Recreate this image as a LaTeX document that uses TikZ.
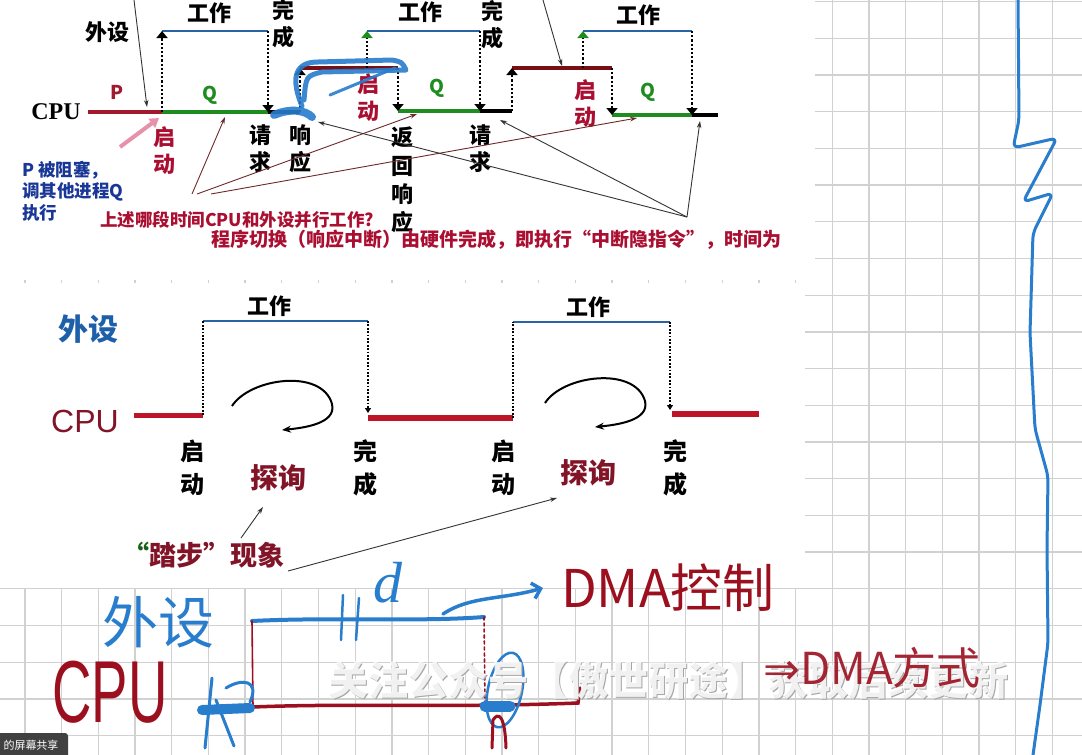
\documentclass[tikz,border=0pt]{standalone}
\usepackage{fontspec}
\setmainfont{Noto Sans CJK SC}
\newfontfamily\tms{Liberation Serif}
\newfontfamily\ars{Liberation Sans}
\newfontfamily\djv{DejaVu Sans}
\usetikzlibrary{arrows.meta}
\newcommand\fsz[1]{\fontsize{#1}{#1}\selectfont}
\newcommand\fsl[2]{\fontsize{#1}{#2}\selectfont}
\definecolor{pred}{RGB}{160,25,45}
\definecolor{maroon}{RGB}{120,15,20}
\definecolor{qgreen}{RGB}{30,140,30}
\definecolor{wblue}{RGB}{40,100,165}
\definecolor{lblue}{RGB}{25,55,150}
\definecolor{tred}{RGB}{170,15,50}
\definecolor{pink}{RGB}{232,145,170}
\definecolor{brn}{RGB}{110,40,40}
\definecolor{c2blue}{RGB}{30,95,170}
\definecolor{c2red}{RGB}{130,20,40}
\definecolor{c2line}{RGB}{190,20,40}
\definecolor{hblue}{RGB}{40,125,205}
\definecolor{hred}{RGB}{155,15,30}
\begin{document}
\begin{tikzpicture}[x=1pt, y=-1pt,
  every node/.style={inner sep=0pt},
  gridln/.style={draw=black!18, line width=1.3pt},
  lbl/.style={font=\bfseries\fsz{22}},
  vlab/.style={font=\bfseries\fsl{22}{27}, align=center},
  ql/.style={font=\bfseries\fsz{19}, text=qgreen},
  sigp/.style={draw=pred, line width=4pt},
  sigq/.style={draw=qgreen, line width=4pt},
  sigk/.style={draw=black, line width=4pt},
  sigr/.style={draw=maroon, line width=4pt},
  sigw/.style={draw=wblue, line width=2.6pt},
  dotarr/.style={line width=2.4pt, dash pattern=on 2.2pt off 2pt, -{Triangle[length=7pt,width=11pt]}},
  gdotarr/.style={line width=2.4pt, dash pattern=on 2.2pt off 2pt, -{Triangle[length=7pt,width=11pt,color=qgreen]}},
  ptr/.style={draw=brn, line width=0.9pt, -{Stealth[length=7pt,width=4.5pt]}},
  ptrk/.style={draw=black!80, line width=0.9pt, -{Stealth[length=7pt,width=4.5pt]}},
  scrib/.style={draw=hblue, line width=5pt, line cap=round, line join=round, opacity=0.9},
  sig2r/.style={draw=c2line, line width=6pt},
  sig2w/.style={draw=wblue, line width=2.5pt},
  dot2/.style={line width=2pt, dash pattern=on 1.8pt off 1.6pt},
  dot2arr/.style={dot2, -{Triangle[length=5pt,width=6pt]}},
  vlab2/.style={font=\bfseries\fsl{24}{33}, align=center},
  loop/.style={line width=2pt, -{Stealth[length=9pt,width=7pt]}},
  hb/.style={draw=hblue, line width=4pt, line cap=round, line join=round},
  hr/.style={draw=hred, line width=3pt, line cap=round}]
\useasboundingbox (0,0) rectangle (1082,755);
% squared paper and the two slides
\fill[white] (0,0) rectangle (1082,755);
\foreach \i in {0,...,28} \draw[gridln] ({24.9+36.7*\i},0) -- ++(0,755);
\foreach \j in {0,...,20} \draw[gridln] (0,{1.6+36.7*\j}) -- ++(1082,0);
\fill[white] (0,0) rectangle (815,280);
\fill[white] (0,283) rectangle (805,588);

% ---- slide 1: interrupt timing
\coordinate (a0) at (88,112);  \coordinate (a1) at (162,112);
\coordinate (a2) at (268,112); \coordinate (a3) at (300,112);
\coordinate (a4) at (300,68);  \coordinate (a5) at (398,68);
\coordinate (a6) at (398,111); \coordinate (a7) at (480,111);
\coordinate (a8) at (512,111); \coordinate (a9) at (512,68);
\coordinate (a10) at (612,68); \coordinate (a11) at (612,115);
\coordinate (a12) at (692,115); \coordinate (a13) at (718,115);
\coordinate (b1) at (162,31); \coordinate (b2) at (268,31);
\coordinate (b3) at (367,31); \coordinate (b4) at (480,31);
\coordinate (b5) at (583,31); \coordinate (b6) at (692,31);
\coordinate (g1) at (367,68); \coordinate (g2) at (583,68);
\draw[sigp] (a0) -- (a1);
\draw[sigq] (a1) -- (a2);
\draw[sigk] (a2) -- (a3);
\draw[sigr] (a4) -- (a5);
\draw[sigq] (a6) -- (a7);
\draw[sigk] (a7) -- (a8);
\draw[sigr] (a9) -- (a10);
\draw[sigq] (a11) -- (a12);
\draw[sigk] (a12) -- (a13);
\draw[sigw] (b1) -- (b2); \draw[sigw] (b3) -- (b4); \draw[sigw] (b5) -- (b6);
\draw[dotarr] (a1) -- (b1); \draw[dotarr] (b2) -- (a2);
\draw[dotarr] (a3) -- (a4); \draw[gdotarr] (g1) -- (b3);
\draw[dotarr] (a5) -- (a6); \draw[dotarr] (b4) -- (a7);
\draw[dotarr] (a8) -- (a9); \draw[gdotarr] (g2) -- (b5);
\draw[dotarr] (a10) -- (a11); \draw[dotarr] (b6) -- (a12);

\node[lbl] (dev1) at (107,32) {外设};
\node[font=\tms\bfseries\fsz{24}] (cpu1) at (56,112) {CPU};
\node[font=\bfseries\fsz{19}, text=pred] (p) at (117,92) {P};
\node[ql] (q1) at (210,95) {Q};
\node[ql] (q2) at (437,88) {Q};
\node[ql] (q3) at (648,92) {Q};
\node[lbl] (work1) at (209,13) {工作};
\node[lbl] (work2) at (420,12) {工作};
\node[lbl] (work3) at (638,15) {工作};
\node[vlab] (done1) at (283,24) {完\\成};
\node[vlab] (done2) at (492,25) {完\\成};
\node[vlab, text=tred] (go1) at (164,151) {启\\动};
\node[vlab, text=tred] (go2) at (368,98) {启\\动};
\node[vlab, text=tred] (go3) at (585,104) {启\\动};
\node[vlab] (req1) at (260,149) {请\\求};
\node[vlab] (ack1) at (300,149) {响\\应};
\node[vlab] (req2) at (480,149) {请\\求};
\node[font=\bfseries\fsl{22}{28.3}, align=center] (ret) at (402,180) {返\\回\\响\\应};
\node[font=\bfseries\fsl{17.5}{21.5}, align=left, anchor=west, text=lblue] (blk) at (22,191) {P 被阻塞，\\调其他进程Q\\执行};
\node[font=\bfseries\fsz{17.5}, anchor=west, text=tred] (ask) at (100,220) {上述哪段时间CPU和外设并行工作?};
\node[font=\bfseries\fsz{19}, anchor=west, text=tred] (note) at (211,240) {程序切换（响应中断）由硬件完成，即执行“中断隐指令”，时间为};

% pointers
\coordinate (t1) at (134,0);   \coordinate (t1e) at (147,107);
\coordinate (t2) at (543,0);   \coordinate (t2e) at (562,66);
\draw[ptrk] (t1) -- (t1e);
\draw[ptrk] (t2) -- (t2e);
\coordinate (pk0) at (120,147); \coordinate (pk1) at (159,118);
\draw[draw=pink, line width=4pt, -{Triangle[length=9pt,width=11pt]}] (pk0) -- (pk1);
\coordinate (s1) at (192,194); \coordinate (s2) at (197,194); \coordinate (s3) at (211,194);
\coordinate (e1) at (225,117); \coordinate (e2) at (417,114); \coordinate (e3) at (637,118);
\draw[ptr] (s1) -- (e1); \draw[ptr] (s2) -- (e2); \draw[ptr] (s3) -- (e3);
\coordinate (h0) at (687,217);
\coordinate (h1) at (318,122); \coordinate (h2) at (500,120); \coordinate (h3) at (700,121);
\draw[ptrk] (h0) -- (h1); \draw[ptrk] (h0) -- (h2); \draw[ptrk] (h0) -- (h3);

% blue pen marks on slide 1
\draw[scrib] (302,106) .. controls (292,82) and (292,62) .. (318,62) -- (392,60) .. controls (402,62) .. (406,70) -- (322,72) .. controls (306,76) .. (304,100);
\draw[scrib, line width=3pt] (330,95) -- (395,68);
\draw[scrib, line width=8pt] (274,115) .. controls (290,108) and (305,110) .. (312,117);

% ---- slide 2: polling timing
\node[font=\bfseries\fsz{30}, text=c2blue] (dev2) at (88,329) {外设};
\node[font=\ars\fsz{32}, text=c2red] (cpu2) at (85,421) {CPU};
\coordinate (c0) at (134,415); \coordinate (c1) at (203,415);
\coordinate (c2) at (368,418); \coordinate (c3) at (513,418);
\coordinate (c4) at (672,414); \coordinate (c5) at (759,414);
\coordinate (u1) at (203,321); \coordinate (u2) at (368,321);
\coordinate (u3) at (513,322); \coordinate (u4) at (670,322);
\coordinate (c2t) at (368,413); \coordinate (c4t) at (670,410);
\draw[sig2r, line width=5pt] (c0) -- (c1);
\draw[sig2r] (c2) -- (c3);
\draw[sig2r] (c4) -- (c5);
\draw[sig2w] (u1) -- (u2); \draw[sig2w] (u3) -- (u4);
\draw[dot2] (c1) -- (u1); \draw[dot2arr] (u2) -- (c2t);
\draw[dot2] (c3) -- (u3); \draw[dot2arr] (u4) -- (c4t);
\node[lbl] (work4) at (269,306) {工作};
\node[lbl] (work5) at (588,307) {工作};
\node[vlab2] (go4) at (192,468) {启\\动};
\node[vlab2] (done4) at (365,468) {完\\成};
\node[vlab2] (go5) at (503,468) {启\\动};
\node[vlab2] (done5) at (675,468) {完\\成};
\node[font=\bfseries\fsz{28}, text=c2red] (poll1) at (278,478) {探询};
\node[font=\bfseries\fsz{28}, text=c2red] (poll2) at (588,473) {探询};
\node[font=\bfseries\fsz{27}, text=c2red] (tread) at (203,555) {\textcolor{qgreen!70!black}{“}踏步”现象};
\draw[loop] (232,406) .. controls (250,378) and (322,368) .. (332,404) .. controls (337,424) and (302,428) .. (282,430);
\draw[loop] (545,403) .. controls (563,375) and (635,366) .. (645,401) .. controls (650,421) and (615,425) .. (595,427);
\coordinate (k0) at (241,538); \coordinate (k1) at (263,507);
\coordinate (k2) at (288,571); \coordinate (k3) at (557,498);
\draw[ptrk] (k0) -- (k1);
\draw[ptrk] (k2) -- (k3);

% ---- handwritten DMA sketch
\node[font=\fsz{56}, text=hblue] (dev3) at (158,622) {外设};
\node[font=\ars\fsz{88}, text=hred, xscale=0.62] (cpu3) at (110,692) {CPU};
\node[font=\tms\itshape\fsz{58}, text=hblue] (dd) at (388,583) {d};
\coordinate (w0) at (252,621); \coordinate (w1) at (484,617);
\coordinate (m0) at (253,707); \coordinate (m1) at (578,703); \coordinate (m2) at (580,688);
\draw[hb] (w0) .. controls (330,617) and (420,622) .. (w1);
\draw[hb, line width=2.5pt] (343,595) -- (341,640);
\draw[hb, line width=2.5pt] (359,598) -- (356,640);
\draw[hr, line width=1.6pt] (w0) -- (253,707);
\draw[hr, line width=1.6pt, dashed] (w1) -- (485,702);
\draw[hr, line width=3.5pt] (m0) .. controls (350,703) and (450,708) .. (m1) -- (m2);
\draw[hb, line width=3.5pt, -{Straight Barb[length=8pt,width=16pt]}] (443,614) .. controls (470,596) and (500,600) .. (543,588);
\node[font=\fsz{52}, text=hred] (dma1) at (668,588) {DMA控制};
\draw[hb, line width=10pt] (202,710) -- (250,708);
\draw[hb, line width=3pt] (226,688) .. controls (242,678) and (260,680) .. (250,702);
\draw[hb, line width=3pt] (212,678) -- (205,748);
\draw[hb, line width=3pt] (216,700) -- (234,746);
\draw[hb, line width=11pt] (485,706) -- (510,706);
\draw[hb, line width=2.5pt, rotate around={-12:(505,690)}] (505,690) ellipse (17 and 38);
\draw[hr] (492,748) -- (493,720) .. controls (498,712) and (505,714) .. (506,748);
\node[font=\bfseries\fsz{40}, text=black!35] (wm0) at (669.5,681.5) {关注公众号【傲世研途】获取后续更新};
\node[font=\bfseries\fsz{40}, text=white, opacity=0.85] (wm) at (668,680) {关注公众号【傲世研途】获取后续更新};
\node[font=\fsz{44}, text=hred, opacity=0.9] (dma2) at (872,668) {{\djv ⇒}DMA方式};
\draw[hb, line width=3pt, rounded corners=6pt] (1018,0) -- (1019,120) -- (1013,148) -- (1057,138) -- (1023,202) -- (1053,193) -- (1033,233) -- (1030,333) -- (1035,429) -- (1048,476) -- (1047,548) -- (1048,643) -- (1040,705) -- (1033,755);

% screen share tag
\fill[black!75, rounded corners=3pt] (-5,733) rectangle (68,760);
\node[font=\fsz{11}, text=white] (tag) at (31,745) {的屏幕共享};
\end{tikzpicture}
\end{document}
